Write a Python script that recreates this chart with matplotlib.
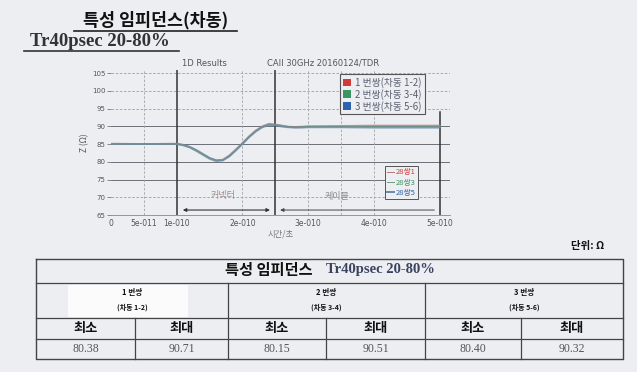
import matplotlib
matplotlib.use('Agg')
import matplotlib.pyplot as plt
from matplotlib.patches import Patch, Rectangle
from matplotlib.lines import Line2D

plt.rcParams['font.family'] = ['Noto Sans CJK KR', 'DejaVu Sans']

# data
time_s = [0.0, 0.5e-10, 1.0e-10, 1.1e-10, 1.2e-10, 1.3e-10, 1.4e-10, 1.5e-10, 1.6e-10,
          1.7e-10, 1.8e-10, 1.9e-10, 2.0e-10, 2.1e-10, 2.2e-10, 2.3e-10, 2.4e-10, 2.5e-10,
          2.6e-10, 2.7e-10, 2.8e-10, 2.9e-10, 3.0e-10, 3.5e-10, 4.0e-10, 4.5e-10, 5.0e-10]
z_pair1 = [85.0, 85.0, 85.0, 84.7, 84.1, 83.2, 82.1, 81.0, 80.4, 80.6, 81.8, 83.5, 85.3, 87.2,
           88.8, 90.0, 90.71, 90.5, 90.2, 89.9, 89.8, 89.9, 90.0, 90.1, 90.2, 90.2, 90.2]
z_pair2 = [85.0, 85.0, 85.0, 84.6, 84.0, 83.0, 81.9, 80.8, 80.15, 80.4, 81.6, 83.3, 85.1, 87.0,
           88.6, 89.8, 90.51, 90.4, 90.1, 89.8, 89.7, 89.8, 89.9, 89.9, 89.9, 89.9, 89.9]
z_pair3 = [85.1, 85.0, 85.1, 84.8, 84.2, 83.3, 82.2, 81.1, 80.45, 80.4, 81.5, 83.2, 85.0, 86.9,
           88.5, 89.7, 90.32, 90.2, 89.9, 89.7, 89.6, 89.6, 89.7, 89.7, 89.6, 89.6, 89.6]

series_labels = ['1 번쌍(차동 1-2)', '2 번쌍(차동 3-4)', '3 번쌍(차동 5-6)']
probe_labels = ['28쌍1', '28쌍3', '28쌍5']
x_ticks = [0, 0.5e-10, 1e-10, 2e-10, 3e-10, 4e-10, 5e-10]
x_tick_labels = ['0', '5e-011', '1e-010', '2e-010', '3e-010', '4e-010', '5e-010']
y_ticks = [65, 70, 75, 80, 85, 90, 95, 100, 105]

group_names = ['1 번쌍', '2 번쌍', '3 번쌍']
group_sub = ['(차동 1-2)', '(차동 3-4)', '(차동 5-6)']
min_vals = ['80.38', '80.15', '80.40']
max_vals = ['90.71', '90.51', '90.32']

bg = '#eceef1'
line_cols = ['#b87878', '#6a9c84', '#6a88a6']
box_cols = ['#d23a3a', '#3c9460', '#2f62ad']
W, H = 637, 372

fig = plt.figure(figsize=(W / 100, H / 100), dpi=100, facecolor=bg)

# overlay in pixel coordinates for titles and the table
ov = fig.add_axes([0, 0, 1, 1])
ov.set_xlim(0, W)
ov.set_ylim(H, 0)
ov.axis('off')

ov.text(156, 20, '특성 임피던스(차동)', ha='center', va='center', fontsize=12.5,
        fontweight='bold', color='#111')
ov.plot([74, 237], [31, 31], color='#222', lw=1.2)
ov.text(100, 42, 'Tr40psec 20-80%', ha='center', va='center', fontsize=13.5,
        fontweight='bold', family='Liberation Serif', color='#333')
ov.plot([24, 179], [51, 51], color='#333', lw=1.2)

ov.text(588, 246, '단위: Ω', ha='center', va='center', fontsize=7.5, fontweight='bold',
        color='#111')

# table
tx0, tx1 = 36, 623
ty = [259, 283, 318, 339, 359]
groups = [36, 228, 425, 623]
subs = [135, 326, 521]
lc = '#444'
ov.add_patch(Rectangle((68, 285), 120, 32, facecolor='white', edgecolor='none', alpha=0.8))
ov.plot([tx0, tx1, tx1, tx0, tx0], [ty[0], ty[0], ty[-1], ty[-1], ty[0]], color=lc, lw=1.0)
for y in ty[1:-1]:
    ov.plot([tx0, tx1], [y, y], color=lc, lw=0.9)
for x in groups[1:-1]:
    ov.plot([x, x], [ty[1], ty[-1]], color=lc, lw=0.9)
for x in subs:
    ov.plot([x, x], [ty[2], ty[-1]], color=lc, lw=0.9)

ov.text(269, 270, '특성 임피던스', ha='center', va='center', fontsize=11,
        fontweight='bold', color='#111')
ov.text(380, 270, 'Tr40psec 20-80%', ha='center', va='center', fontsize=10.5,
        fontweight='bold', family='Liberation Serif', color='#3a4260')

for i in range(3):
    gx = (groups[i] + groups[i + 1]) / 2
    ov.text(gx, 293, group_names[i], ha='center', va='center', fontsize=5.5,
            fontweight='bold', color='#111')
    ov.text(gx, 307, group_sub[i], ha='center', va='center', fontsize=5,
            fontweight='bold', color='#111')
    left = groups[i]
    mid = subs[i]
    right = groups[i + 1]
    ov.text((left + mid) / 2, 328, '최소', ha='center', va='center', fontsize=9.5,
            fontweight='bold', color='#111')
    ov.text((mid + right) / 2, 328, '최대', ha='center', va='center', fontsize=9.5,
            fontweight='bold', color='#111')
    ov.text((left + mid) / 2, 349, min_vals[i], ha='center', va='center', fontsize=8.5,
            family='Liberation Serif', color='#555')
    ov.text((mid + right) / 2, 349, max_vals[i], ha='center', va='center', fontsize=8.5,
            family='Liberation Serif', color='#555')

# chart
ax_left, ax_right = 111 / W, 449.6 / W
ax_top, ax_bot = 70.2 / H, 215 / H
ax = fig.add_axes([ax_left, 1 - ax_bot, ax_right - ax_left, ax_bot - ax_top])
ax.set_facecolor('none')
ax.set_xlim(0, 5.15e-10)
ax.set_ylim(65, 105.8)

for y in y_ticks[1:]:
    if y in (75, 80, 85, 90):
        ax.axhline(y, color='#6b6f78', lw=0.7, zorder=1)
    else:
        ax.axhline(y, color='#9a9ea6', lw=0.6, ls=(0, (3, 2)), zorder=1)
for x in [0.5e-10, 2e-10, 3e-10, 3.5e-10, 4e-10]:
    ax.axvline(x, color='#a0a4ac', lw=0.6, ls=(0, (3, 2)), zorder=1)
for x in [1e-10, 2.5e-10]:
    ax.axvline(x, color='#333', lw=1.1, zorder=2)
ax.plot([5e-10, 5e-10], [65, 94], color='#333', lw=1.1, zorder=2)

for z, c in zip([z_pair1, z_pair2, z_pair3], line_cols):
    ax.plot(time_s, z, color=c, lw=1.3, alpha=0.75, zorder=3)

ax.annotate('', xy=(2.46e-10, 66.4), xytext=(1.05e-10, 66.4),
            arrowprops=dict(arrowstyle='<|-|>', color='#333', lw=0.8, mutation_scale=5))
ax.annotate('', xy=(2.53e-10, 66.4), xytext=(4.96e-10, 66.4),
            arrowprops=dict(arrowstyle='-|>', color='#444', lw=0.7, mutation_scale=5))
ax.text(1.7e-10, 70.6, '커넥터', ha='center', va='center', fontsize=6.5, color='#a08a8c')
ax.text(3.44e-10, 70.1, '케이블', ha='center', va='center', fontsize=6.5, color='#8a8d96')

ax.text(1.08e-10, 107.8, '1D Results', ha='left', va='center', fontsize=6,
        color='#555', family='DejaVu Sans')
ax.text(2.37e-10, 107.8, 'CAII 30GHz 20160124/TDR', ha='left', va='center', fontsize=6,
        color='#555', family='DejaVu Sans')

ax.set_xticks(x_ticks)
ax.set_xticklabels(x_tick_labels, fontsize=5.5, color='#555', family='DejaVu Sans')
ax.set_yticks(y_ticks)
ax.set_yticklabels([str(v) for v in y_ticks], fontsize=5, color='#555', family='DejaVu Sans')
ax.tick_params(axis='x', length=0, pad=3)
ax.tick_params(axis='y', length=3, width=0.6, color='#777', pad=1)
for s in ['top', 'right', 'left']:
    ax.spines[s].set_visible(False)
ax.spines['bottom'].set_color('#888')
ax.spines['bottom'].set_linewidth(0.6)
ax.set_xlabel('시간/초', fontsize=6, color='#777', labelpad=1)
ax.set_ylabel('Z (Ω)', fontsize=6, color='#555', labelpad=2)

h1 = [Patch(facecolor=c, edgecolor='none') for c in box_cols]
leg1 = fig.legend(h1, series_labels, loc='upper left', bbox_to_anchor=(335 / W, 1 - 69 / H),
                  fontsize=7, frameon=True, fancybox=False, edgecolor='#555',
                  facecolor=bg, framealpha=1, handlelength=0.8, handleheight=0.8,
                  handletextpad=0.5, labelspacing=0.1, borderpad=0.3, labelcolor='#5a6072')
leg1.get_frame().set_linewidth(0.8)

h2 = [Line2D([], [], color=c, lw=w) for c, w in zip(line_cols, [0.7, 0.7, 1.4])]
leg2 = ax.legend(h2, probe_labels, loc='upper left', bbox_to_anchor=(385 / W, 1 - 166 / H),
                 bbox_transform=fig.transFigure, fontsize=5.5, frameon=True, fancybox=False,
                 edgecolor='#555', facecolor=bg, framealpha=1, handlelength=0.9,
                 handletextpad=0.2, labelspacing=0.3, borderpad=0.3, borderaxespad=0,
                 labelcolor=box_cols)
leg2.get_frame().set_linewidth(0.7)

fig.savefig('out.png', dpi=100, facecolor=bg)
